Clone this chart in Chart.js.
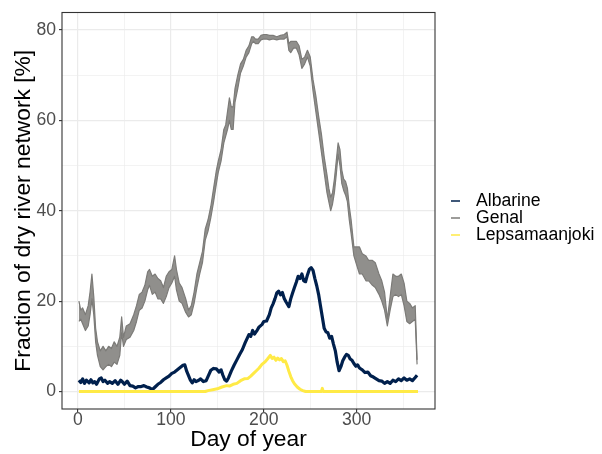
<!DOCTYPE html>
<html>
<head>
<meta charset="utf-8">
<script src="https://cdn.jsdelivr.net/npm/chart.js@4.4.1/dist/chart.umd.min.js"></script>
<style>
html,body{margin:0;padding:0;background:#ffffff;}
#wrap{width:602px;height:454px;}
</style>
</head>
<body>
<div id="wrap"><canvas id="c" width="602" height="454"></canvas></div>
<script>
// ---- data ----
const seriesNames = ['Albarine', 'Genal', 'Lepsamaanjoki'];
const seriesColors = ['#00204D', '#7C7B78', '#FFEA46'];

const xTicks = [0, 100, 200, 300];
const yTicks = [0, 20, 40, 60, 80];

const genalDays = [1,3,5,8,11,13,15,17,19,21,24,27,30,33,36,39,42,45,47,49,52,56,60,63,66,69,72,75,77,80,83,86,89,92,95,98,101,104,106,109,112,116,119,122,125,128,131,134,137,140,143,146,149,151,154,157,159,161,163,165,167,169,172,175,178,181,184,187,189,191,194,197,200,203,206,210,214,218,222,225,227,229,232,235,238,241,244,247,250,253,256,259,262,265,268,270,272,274,276,278,280,282,284,286,288,290,292,294,297,300,303,306,310,313,317,320,324,327,330,333,336,339,342,345,348,351,354,357,360,363,365];
const genalHigh = [20,18,18.5,17,19,22,26,21,14,11,9,10,9,10,9.5,11,10,12,16.5,12,14.5,15,17,19,21.5,22,23.5,26.5,27,25.5,26,25,24.5,23,25.5,26.5,27,30,27,24,23,20.5,18,19,22,26,28.5,31,36,38,41,45,49,51,53.5,58,59,62,65,63,63,67,70,72.5,73.5,75.5,76.5,78.5,78.5,78,78,78.8,79,79,78.8,78.8,78.5,78.8,79,79.5,77,77.5,77.5,77.5,76.5,73.5,74,75.5,74,69,65.5,61,57,52,48,45,43,44,47,51,55,53.5,49,47,46.5,45,41,38,32,32,32,30.5,30,29,29,28.5,26,24.5,22,16,21,26,25.5,25.5,26,24,20,19.5,18.5,19,7];
const genalLow = [15.5,16,15,13.5,14.5,17,20.5,17,11,8,5.5,4.8,5.5,6,5.5,6.5,6,8,13,10,11.5,12,13.5,15.5,18,18.5,20,22.5,23.5,21.5,22,20.5,20.5,19.5,21,23,24,25.5,22.5,20,19.5,17.5,16.5,17,19.5,23,26,28.5,33.5,35.5,38.5,42,46,48.5,51,55,56.5,58,60,58,58,64,67,70.5,72,74,75,77,77.5,77,77,77.8,78,78,77.8,78,77.8,78,78,78.5,75.5,75,76,76,74.5,71.5,72.5,74,72,66.5,62,57.5,53,48.5,44,42,40,41.5,44,48,52.5,50,46,44.5,43.5,42,38,35,30,28,26,26,24.5,24.5,23.5,23,21.5,20,18,14.5,18,21,21.5,21,21.5,19,15.5,15,15.5,16,6];

const albarineDays = [1,3,5,7,9,12,14,16,18,20,23,25,27,29,32,34,37,40,43,46,48,50,53,56,59,62,65,68,71,74,77,80,83,86,89,92,95,98,101,104,107,110,113,115,117,119,121,123,125,127,130,132,135,138,141,143,146,149,152,154,156,158,160,162,165,168,171,174,177,180,182,184,186,188,190,193,195,198,200,203,206,208,210,212,214,216,218,220,222,224,227,229,231,233,235,237,239,241,243,245,247,249,251,253,255,257,259,261,263,265,267,269,271,273,275,277,279,281,283,285,287,289,291,293,295,297,299,301,303,306,309,312,315,318,321,324,327,330,333,336,339,342,345,348,351,354,357,360,363,365];
const albarineValues = [2.5,2,2.8,1.8,2.5,1.9,2.6,1.9,2.2,1.6,2.8,3,2.2,2.5,1.8,2.2,1.8,2.4,1.6,2.5,2.1,1.6,2.3,1.3,1.2,0.8,1.1,1.1,1.3,1.0,0.8,0.4,1.0,1.6,2.0,2.6,3.0,3.4,4.0,4.3,4.8,5.3,5.8,5.9,4.5,3.5,2.5,1.9,2.6,2.2,2.5,2.8,2.2,2.4,3.8,4.7,5.1,5.0,4.3,4.8,3.6,2.6,2.3,3.0,4.5,5.8,7.0,8.2,9.3,10.8,11.7,12.6,12.2,13.5,12.7,13.6,14.3,14.8,15.5,15.6,17.0,18.5,19.4,20.5,21.8,22.2,21.4,21.9,20.6,19.8,18.8,20.5,21.8,23.0,24.2,25.5,25.0,26.0,24.5,24.3,25.8,27.0,27.4,26.8,25.0,23.4,21.5,19.0,16.5,14.0,13.2,13.0,11.8,12.2,10.5,9.0,6.5,4.6,5.5,6.8,7.6,8.2,8.0,7.2,6.9,6.2,5.6,5.9,5.2,4.8,4.2,4.3,3.5,3.2,2.8,2.4,2.3,1.8,2.2,1.8,2.5,2.2,2.8,2.4,3.0,2.5,2.8,2.4,3.1,3.6];

const lepsaDays = [1,137,140,145,150,155,160,163,167,171,175,179,183,186,189,192,195,198,201,204,207,209,211,213,215,217,219,221,223,225,227,229,231,233,236,239,242,245,262,263,264,366];
const lepsaValues = [0,0,0.2,0.4,0.6,1.0,1.3,1.2,1.6,1.8,2.4,2.8,2.9,3.4,4.0,4.6,5.2,6.0,6.5,7.2,8.0,7.3,7.6,6.9,7.4,7.0,7.3,6.6,6.8,5.8,4.5,3.3,2.4,1.7,1.0,0.5,0.2,0,0,0.7,0,0];

// ---- build library structures ----
const toPts = (xs, ys) => xs.map((d, i) => ({x: d, y: ys[i]}));
const FONT = 'Liberation Sans, Arial, Helvetica, sans-serif';

const legendPlugin = {
  id: 'ggLegend',
  afterDraw(chart) {
    const ctx = chart.ctx;
    const ys = [201, 218, 235];
    ctx.save();
    ctx.font = '17.6px ' + FONT;
    ctx.textBaseline = 'middle';
    ctx.textAlign = 'left';
    seriesNames.forEach((n, i) => {
      ctx.strokeStyle = seriesColors[i];
      ctx.lineWidth = 1.5;
      ctx.beginPath();
      ctx.moveTo(451, ys[i]);
      ctx.lineTo(460, ys[i]);
      ctx.stroke();
      ctx.fillStyle = '#000000';
      ctx.fillText(n, 476, ys[i]);
    });
    ctx.restore();
  }
};
const borderPlugin = {
  id: 'panelBorder',
  afterDatasetsDraw(chart) {
    const a = chart.chartArea, ctx = chart.ctx;
    ctx.save();
    ctx.strokeStyle = '#333333';
    ctx.lineWidth = 1.1;
    ctx.strokeRect(a.left, a.top, a.right - a.left, a.bottom - a.top);
    ctx.restore();
  }
};

const isMajorX = v => xTicks.includes(v);
const isMajorY = v => yTicks.includes(v);

new Chart(document.getElementById('c'), {
  type: 'line',
  data: {
    datasets: [
      {label: 'Genal high', data: toPts(genalDays, genalHigh), borderColor: seriesColors[1], borderWidth: 1.2, pointRadius: 0, fill: false, order: 2},
      {label: 'Genal low', data: toPts(genalDays, genalLow), borderColor: seriesColors[1], borderWidth: 1.2, pointRadius: 0, fill: '-1', backgroundColor: 'rgba(124,123,120,0.85)', order: 2},
      {label: seriesNames[0], data: toPts(albarineDays, albarineValues), borderColor: seriesColors[0], borderWidth: 3.2, pointRadius: 0, fill: false, order: 1},
      {label: seriesNames[2], data: toPts(lepsaDays, lepsaValues), borderColor: seriesColors[2], borderWidth: 3, pointRadius: 0, fill: false, order: 0}
    ]
  },
  options: {
    responsive: false,
    animation: false,
    devicePixelRatio: 1,
    layout: {padding: {left: 0, top: 12.5, right: 167, bottom: 0}},
    plugins: {legend: {display: false}, tooltip: {enabled: false}},
    elements: {line: {tension: 0, borderJoinStyle: 'round'}},
    scales: {
      x: {
        type: 'linear', min: -17.2, max: 384.3,
        afterBuildTicks: s => { s.ticks = [0,50,100,150,200,250,300,350].map(v => ({value: v})); },
        afterFit: s => { s.height = 45; },
        border: {display: false},
        grid: {
          color: '#EBEBEB',
          lineWidth: c => isMajorX(c.tick.value) ? 1.2 : 0.6,
          tickColor: c => isMajorX(c.tick.value) ? '#333333' : 'rgba(0,0,0,0)',
          tickWidth: 1.1, tickLength: 3, drawTicks: true
        },
        ticks: {
          callback: v => isMajorX(v) ? String(v) : '',
          color: '#4D4D4D', padding: -1, maxRotation: 0, autoSkip: false,
          font: {family: FONT, size: 17.6, lineHeight: 1.0}
        },
        title: {display: true, text: 'Day of year', color: '#000000', padding: {top: 0, bottom: 1},
                font: {family: FONT, size: 22.8, lineHeight: 1.2}}
      },
      y: {
        type: 'linear', min: -3.87, max: 83.87,
        afterBuildTicks: s => { s.ticks = [0,10,20,30,40,50,60,70,80].map(v => ({value: v})); },
        afterFit: s => { s.width = 62; },
        border: {display: false},
        grid: {
          color: '#EBEBEB',
          lineWidth: c => isMajorY(c.tick.value) ? 1.2 : 0.6,
          tickColor: c => isMajorY(c.tick.value) ? '#333333' : 'rgba(0,0,0,0)',
          tickWidth: 1.1, tickLength: 3, drawTicks: true
        },
        ticks: {
          callback: v => isMajorY(v) ? String(v) : '',
          color: '#4D4D4D', padding: 3, autoSkip: false,
          font: {family: FONT, size: 17.6, lineHeight: 1.0}
        },
        title: {display: true, text: 'Fraction of dry river network [%]', color: '#000000', padding: {top: 10, bottom: 0},
                font: {family: FONT, size: 22.8, lineHeight: 1.2}}
      }
    }
  },
  plugins: [borderPlugin, legendPlugin]
});
</script>
</body>
</html>
